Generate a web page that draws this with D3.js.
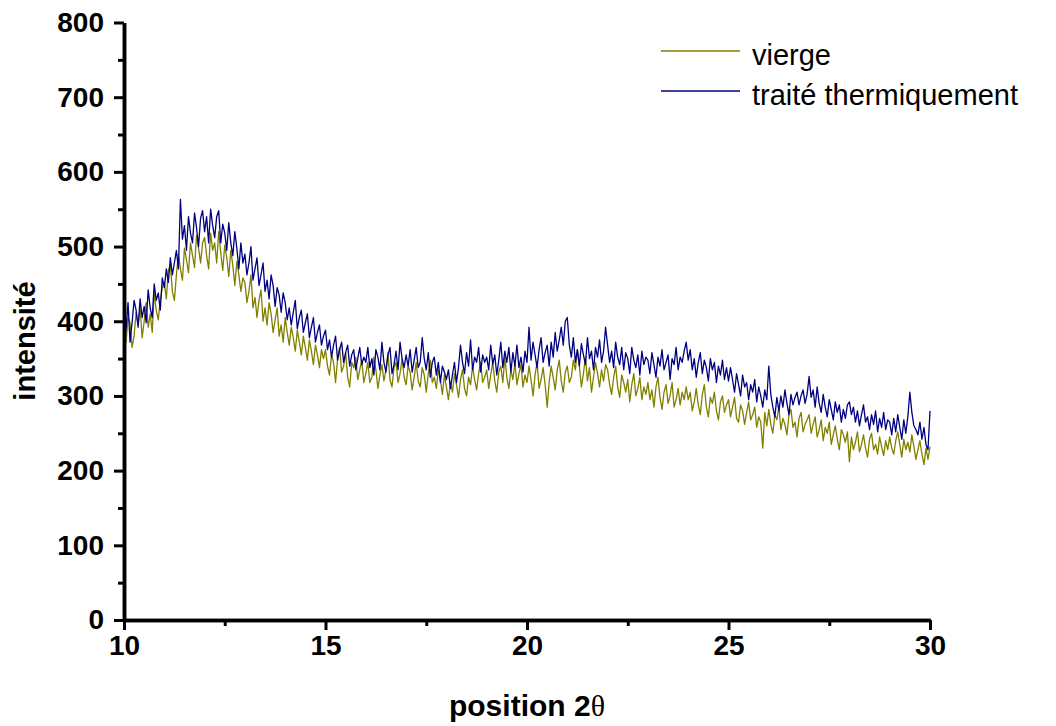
<!DOCTYPE html>
<html><head><meta charset="utf-8">
<script src="https://cdn.jsdelivr.net/npm/d3@7"></script>
<style>
html,body{margin:0;padding:0;background:#fff;}
svg{display:block;}
</style></head>
<body>
<svg id="chart" width="1056" height="726"></svg>
<script>
// ---- data ----
const xStart = 10;      // first 2θ position
const xStep = 0.05;     // sampling step of 2θ
const vierge = [
390,372,405,398,365,380,412,395,418,378,400,425,392,410,385,438,415,402,428,445,
452,430,468,475,440,428,462,490,470,455,498,482,465,505,488,472,515,498,478,505,
512,488,470,518,495,505,478,520,492,468,502,485,460,495,475,448,480,462,440,458,
452,425,440,462,418,432,405,428,442,400,418,395,425,410,385,402,418,380,395,372,
405,385,368,392,378,360,388,372,355,380,365,348,375,360,342,368,355,338,362,350,
362,340,328,355,345,318,350,365,332,340,358,325,312,345,338,352,322,335,348,318,
330,345,318,325,352,335,310,328,342,320,335,358,322,312,338,345,318,330,350,325,
315,340,332,308,325,345,320,312,338,328,305,330,348,318,325,310,335,322,302,328,
312,295,318,305,330,315,298,322,335,310,300,325,315,340,322,308,330,345,318,325,
335,310,328,345,320,305,332,340,318,352,325,310,335,322,345,315,330,342,312,328,
318,340,322,300,328,345,310,322,338,315,285,318,340,325,308,335,348,320,305,332,
340,318,325,348,335,362,340,312,330,352,320,338,305,325,345,330,312,335,320,342,
335,315,302,325,340,312,298,328,318,305,322,292,315,330,300,310,325,295,312,302,
318,295,308,285,312,325,298,282,305,315,290,300,318,285,295,310,288,305,295,312,
295,305,280,292,310,288,275,302,315,285,272,298,290,305,280,268,292,300,278,288,
295,272,285,298,270,265,288,280,262,278,292,268,275,285,258,272,265,230,278,260,
282,262,250,275,268,285,255,270,262,248,275,282,258,265,245,270,278,252,262,268,
275,250,262,272,245,255,268,240,258,250,265,235,248,260,242,228,255,248,238,252,
212,245,228,238,252,225,235,248,230,218,242,250,228,235,222,245,232,220,240,228,
245,230,222,240,252,235,218,242,228,238,225,248,232,215,228,240,222,208,230,215,
232];
const traite = [
410,388,425,372,398,428,415,392,430,405,420,398,442,418,405,450,428,438,415,458,
445,470,452,485,462,478,495,470,563,510,528,495,540,518,505,545,525,500,538,548,
520,540,505,550,528,512,540,548,505,530,518,495,532,505,488,520,498,470,505,478,
490,462,478,500,455,470,485,448,462,478,440,455,430,462,448,420,445,435,412,438,
425,402,418,395,412,428,390,405,415,385,398,410,378,392,405,372,385,395,368,380,
388,362,375,352,368,380,348,362,372,345,358,368,340,355,362,335,350,365,342,352,
345,365,338,350,328,362,352,335,372,345,332,355,365,330,342,360,335,372,350,338,
355,340,362,332,348,365,338,345,378,350,335,358,325,345,352,328,345,318,340,332,
322,335,310,328,345,318,338,368,345,330,358,340,375,335,352,345,365,332,355,345,
352,335,368,342,355,328,348,372,338,360,345,365,332,358,340,368,338,352,332,360,
345,392,348,372,355,338,362,378,345,358,368,340,372,352,385,360,375,392,368,400,
405,368,352,378,345,362,340,370,355,342,378,350,360,335,365,352,375,345,360,392,
368,345,360,338,372,352,342,365,335,358,350,330,365,348,338,355,328,360,342,352,
348,330,358,342,325,352,340,362,335,345,355,322,350,342,365,335,352,345,360,372,
348,362,335,350,325,345,358,330,348,338,320,350,335,345,318,340,328,348,322,338,
320,338,322,305,330,315,300,328,312,318,295,315,305,322,292,312,300,285,308,295,
340,302,285,272,298,280,300,285,308,290,275,302,288,298,305,288,300,308,290,302,
326,298,308,285,312,290,278,302,285,272,295,282,268,292,278,288,265,282,270,288,
292,275,285,265,280,260,275,288,265,272,255,275,262,280,252,270,258,278,255,268,
265,248,270,252,275,258,242,268,250,272,305,278,260,255,248,265,242,258,235,228,
280];
const seriesNames = ["vierge", "traité thermiquement"];
const seriesColors = ["#808000", "#000080"];
const xTicks = [10, 15, 20, 25, 30];
const xMinorTicks = [12.5, 17.5, 22.5, 27.5];
const yTicks = [0, 100, 200, 300, 400, 500, 600, 700, 800];
const yMinorTicks = [50, 150, 250, 350, 450, 550, 650, 750];
const xTitle = "position 2";
const xTitleSymbol = "θ";
const yTitle = "intensité";

// ---- drawing ----
const svg = d3.select("#chart");
const font = "'Liberation Sans', Arial, Helvetica, sans-serif";
const x = d3.scaleLinear().domain([10, 30]).range([124, 930]);
const y = d3.scaleLinear().domain([0, 800]).range([620, 22.5]);

const series = [vierge, traite].map((vals, k) => ({
  name: seriesNames[k], color: seriesColors[k],
  pts: vals.map((v, i) => [xStart + i * xStep, v])
}));

const line = d3.line().x(d => x(d[0])).y(d => y(d[1]));
svg.append("g").selectAll("path").data(series).join("path")
  .attr("d", d => line(d.pts))
  .attr("fill", "none")
  .attr("stroke", d => d.color)
  .attr("stroke-width", 1.3)
  .attr("stroke-linejoin", "round");

function styleAxis(g, sw) {
  g.select(".domain").attr("stroke", "#000").attr("stroke-width", sw);
  g.selectAll(".tick line").attr("stroke", "#000").attr("stroke-width", 3);
  g.selectAll(".tick text").attr("fill", "#000")
    .style("font-family", font).style("font-weight", "bold").style("font-size", "28px");
}

// minor ticks
svg.append("g").attr("transform", "translate(124,0)")
  .call(d3.axisLeft(y).tickValues(yMinorTicks).tickSize(6).tickSizeOuter(0).tickFormat(""))
  .call(g => styleAxis(g, 3.5));
svg.append("g").attr("transform", "translate(0,620)")
  .call(d3.axisBottom(x).tickValues(xMinorTicks).tickSize(6).tickSizeOuter(0).tickFormat(""))
  .call(g => styleAxis(g, 3.5));
// major ticks
svg.append("g").attr("transform", "translate(124,0)")
  .call(d3.axisLeft(y).tickValues(yTicks).tickSize(10).tickSizeOuter(0).tickPadding(10))
  .call(g => styleAxis(g, 3.5));
svg.append("g").attr("transform", "translate(0,620)")
  .call(d3.axisBottom(x).tickValues(xTicks).tickSize(10).tickSizeOuter(0).tickPadding(5))
  .call(g => styleAxis(g, 3.5));

// axis titles
const xt = svg.append("text").attr("x", 527).attr("y", 716).attr("text-anchor", "middle")
  .style("font-family", font).style("font-weight", "bold").style("font-size", "30px");
xt.append("tspan").text(xTitle);
xt.append("tspan").text(xTitleSymbol)
  .style("font-family", "'Liberation Serif', 'DejaVu Serif', serif").style("font-weight", "normal");

svg.append("text").attr("transform", "translate(35,341) rotate(-90)")
  .attr("text-anchor", "middle")
  .style("font-family", font).style("font-weight", "bold").style("font-size", "29px")
  .text(yTitle);

// legend
const lg = svg.append("g");
const legY = [51, 91];
series.forEach((s, k) => {
  lg.append("line").attr("x1", 661).attr("x2", 740).attr("y1", legY[k]).attr("y2", legY[k])
    .attr("stroke", s.color).attr("stroke-width", 1.3);
  lg.append("text").attr("x", 752).attr("y", legY[k] + 14)
    .style("font-family", font).style("font-size", "29px").attr("fill", "#000")
    .text(s.name);
});
</script>
</body></html>
